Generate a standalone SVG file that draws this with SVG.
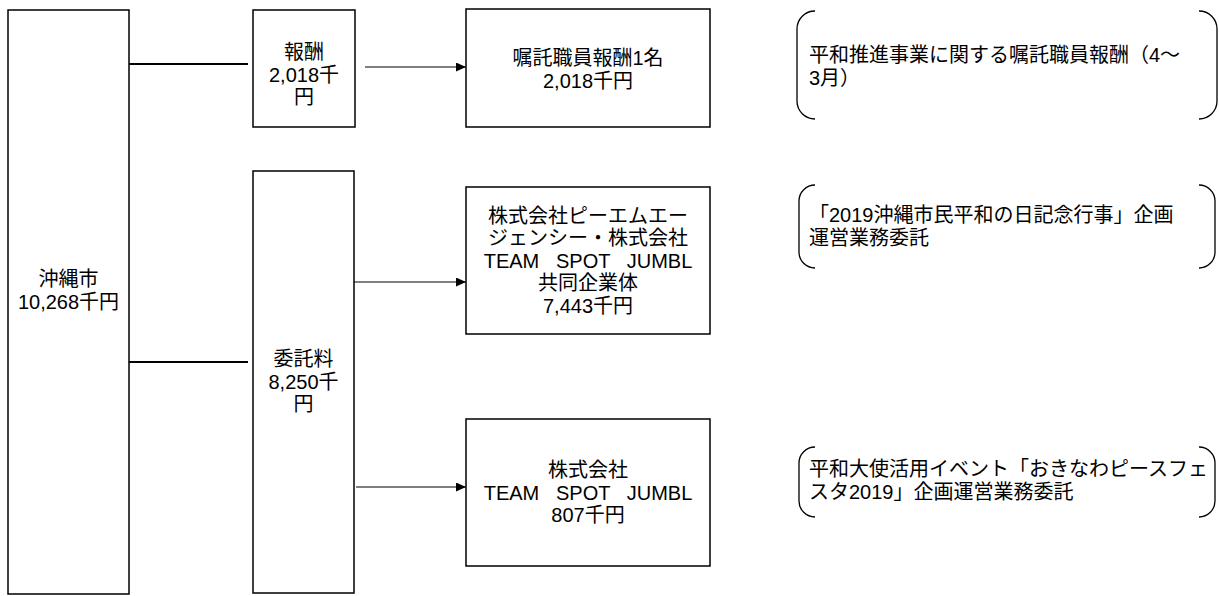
<svg xmlns="http://www.w3.org/2000/svg" width="1219" height="596" viewBox="0 0 1219 596">
<defs>
<marker id="ah" markerWidth="10" markerHeight="9" refX="10" refY="4.5" orient="auto" markerUnits="userSpaceOnUse">
<path d="M0,0 L10,4.5 L0,9 Z" fill="#000"/>
</marker>
<style>
.box{fill:#fff;stroke:#000;stroke-width:1.5}
.br{fill:none;stroke:#000;stroke-width:1.3}
.t{font-family:"Liberation Sans","Noto Sans CJK JP",sans-serif;font-size:20px;fill:#000;dominant-baseline:central}
.c{text-anchor:middle}
.l{text-anchor:start}
.thick{stroke:#000;stroke-width:2;fill:none}
.arr{stroke:#000;stroke-width:1;fill:none;marker-end:url(#ah)}
</style>
</defs>
<rect width="1219" height="596" fill="#fff"/>
<g id="connectors">
<line class="thick" x1="129" y1="64" x2="248" y2="64"/>
<line class="thick" x1="129" y1="362" x2="248" y2="362"/>
<line class="arr" x1="365" y1="67" x2="466" y2="67"/>
<line class="arr" x1="354" y1="282" x2="466" y2="282"/>
<line class="arr" x1="356" y1="487" x2="466" y2="487"/>
</g>
<g id="okinawa">
<rect class="box" x="8" y="10" width="121" height="584"/>
<text class="t c" x="68.5" y="279">沖縄市</text>
<text class="t c" x="68.5" y="301.5">10,268千円</text>
</g>
<g id="hoshu">
<rect class="box" x="253" y="10" width="102" height="117"/>
<text class="t c" x="304" y="52">報酬</text>
<text class="t c" x="304" y="74.5">2,018千</text>
<text class="t c" x="304" y="97">円</text>
</g>
<g id="itakuryo">
<rect class="box" x="253" y="171" width="101" height="422"/>
<text class="t c" x="303.5" y="359">委託料</text>
<text class="t c" x="303.5" y="381.5">8,250千</text>
<text class="t c" x="303.5" y="404">円</text>
</g>
<g id="shokutaku">
<rect class="box" x="466" y="9" width="244" height="118"/>
<text class="t c" x="588" y="58">嘱託職員報酬1名</text>
<text class="t c" x="588" y="80.5">2,018千円</text>
</g>
<g id="pma">
<rect class="box" x="466" y="187" width="244" height="147"/>
<text class="t c" x="588" y="215.5">株式会社ピーエムエー</text>
<text class="t c" x="588" y="238">ジェンシー・株式会社</text>
<text class="t c" x="588" y="260.5" xml:space="preserve">TEAM   SPOT   JUMBL</text>
<text class="t c" x="588" y="283">共同企業体</text>
<text class="t c" x="588" y="305.5">7,443千円</text>
</g>
<g id="tsj">
<rect class="box" x="466" y="419" width="244" height="147"/>
<text class="t c" x="588" y="470">株式会社</text>
<text class="t c" x="588" y="492.5" xml:space="preserve">TEAM   SPOT   JUMBL</text>
<text class="t c" x="588" y="515">807千円</text>
</g>
<g id="note1">
<path class="br" d="M815,11 A18,18 0 0 0 797,29 L797,101 A18,18 0 0 0 815,119"/>
<path class="br" d="M1199,11 A18,18 0 0 1 1217,29 L1217,101 A18,18 0 0 1 1199,119"/>
<text class="t l" x="809" y="55">平和推進事業に関する嘱託職員報酬（4～</text>
<text class="t l" x="809" y="77.5">3月）</text>
</g>
<g id="note2">
<path class="br" d="M815,185 A16,16 0 0 0 799,201 L799,252 A16,16 0 0 0 815,268"/>
<path class="br" d="M1199,185 A16,16 0 0 1 1215,201 L1215,252 A16,16 0 0 1 1199,268"/>
<text class="t l" x="809" y="215">「2019沖縄市民平和の日記念行事」企画</text>
<text class="t l" x="809" y="237.5">運営業務委託</text>
</g>
<g id="note3">
<path class="br" d="M815,447 A16,16 0 0 0 799,463 L799,501 A16,16 0 0 0 815,517"/>
<path class="br" d="M1199,447 A16,16 0 0 1 1215,463 L1215,501 A16,16 0 0 1 1199,517"/>
<text class="t l" x="809" y="469">平和大使活用イベント「おきなわピースフェ</text>
<text class="t l" x="809" y="491.5">スタ2019」企画運営業務委託</text>
</g>
</svg>
